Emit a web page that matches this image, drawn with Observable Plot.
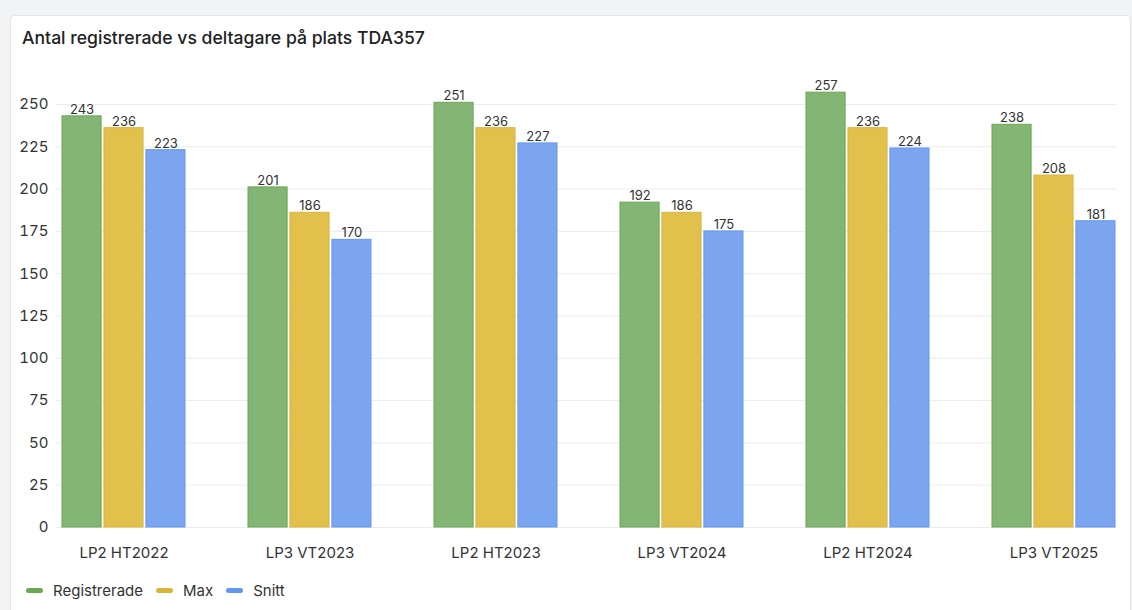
<!DOCTYPE html>
<html>
<head>
<meta charset="utf-8">
<script src="https://cdn.jsdelivr.net/npm/d3@7"></script>
<script src="https://cdn.jsdelivr.net/npm/@observablehq/plot@0.6"></script>
<style>
  html, body { margin: 0; padding: 0; background: #f2f3f4; width: 1132px; height: 610px; overflow: hidden; font-family: Inter, "Noto Sans", sans-serif; }
  #panel { position: absolute; left: 10px; top: 15px; width: 1119px; height: 610px; background: #fff; border: 1px solid #e3e5e8; border-radius: 4px; }
  #title { position: absolute; left: 22px; top: 27px; font-size: 17.6px; font-weight: 500; color: #222; white-space: nowrap; }
  #chart { position: absolute; left: 0; top: 60px; }
  #legend { position: absolute; left: 26px; top: 581px; display: flex; align-items: center; font-size: 15px; color: #333; }
  .item { display: flex; align-items: center; margin-right: 13px; }
  .sw { width: 17px; height: 5px; border-radius: 3px; margin-right: 10px; }
</style>
</head>
<body>
<div id="panel"></div>
<div id="title">Antal registrerade vs deltagare på plats TDA357</div>
<div id="chart"></div>
<div id="legend"></div>
<script>
const periods = ["LP2 HT2022", "LP3 VT2023", "LP2 HT2023", "LP3 VT2024", "LP2 HT2024", "LP3 VT2025"];
const seriesNames = ["Registrerade", "Max", "Snitt"];
const registrerade = [243, 201, 251, 192, 257, 238];
const maxValues = [236, 186, 236, 186, 236, 208];
const snitt = [223, 170, 227, 175, 224, 181];
const yTicks = [0, 25, 50, 75, 100, 125, 150, 175, 200, 225, 250];

const fills = ["#83b574", "#e1c14b", "#7ba6ef"];
const strokes = ["#6aa853", "#d8b43a", "#6297f0"];
const valuesBySeries = [registrerade, maxValues, snitt];

const W = 1132, H = 500;
const bandW = 123.2, barW = 39.3;
const offsets = [0, 41.95, 83.9]; // left inset within band

const marks = [
  Plot.ruleY(yTicks, {stroke: "#ececec", strokeWidth: 1})
];
valuesBySeries.forEach((vals, i) => {
  const data = periods.map((p, j) => ({period: p, value: vals[j]}));
  marks.push(Plot.barY(data, {
    x: "period", y: "value",
    fill: fills[i], stroke: strokes[i], strokeWidth: 1,
    insetLeft: offsets[i], insetRight: bandW - offsets[i] - barW
  }));
  marks.push(Plot.text(data, {
    x: "period", y: "value", text: d => String(d.value),
    dx: offsets[i] + barW / 2 - bandW / 2, dy: -2.5, lineAnchor: "bottom",
    fontSize: 13, fill: "#333"
  }));
});
marks.push(Plot.axisY({ticks: yTicks, tickSize: 0, tickPadding: 8, fontSize: 15, color: "#333", label: null}));
marks.push(Plot.axisX({tickSize: 0, tickPadding: 20, fontSize: 15, color: "#333", label: null}));

const chart = Plot.plot({
  width: W, height: H,
  marginLeft: 56, marginRight: 16, marginTop: 0, marginBottom: 33,
  style: {fontFamily: "Inter, 'Noto Sans', sans-serif", color: "#333", background: "transparent", overflow: "visible"},
  x: {domain: periods, range: [61, 1115.2], paddingInner: 0.338, paddingOuter: 0},
  y: {domain: [0, 250], range: [467, 44]},
  marks
});
document.getElementById("chart").appendChild(chart);

const legend = document.getElementById("legend");
seriesNames.forEach((n, i) => {
  const it = document.createElement("div");
  it.className = "item";
  it.innerHTML = `<span class="sw" style="background:${strokes[i]}"></span><span>${n}</span>`;
  legend.appendChild(it);
});
</script>
</body>
</html>
